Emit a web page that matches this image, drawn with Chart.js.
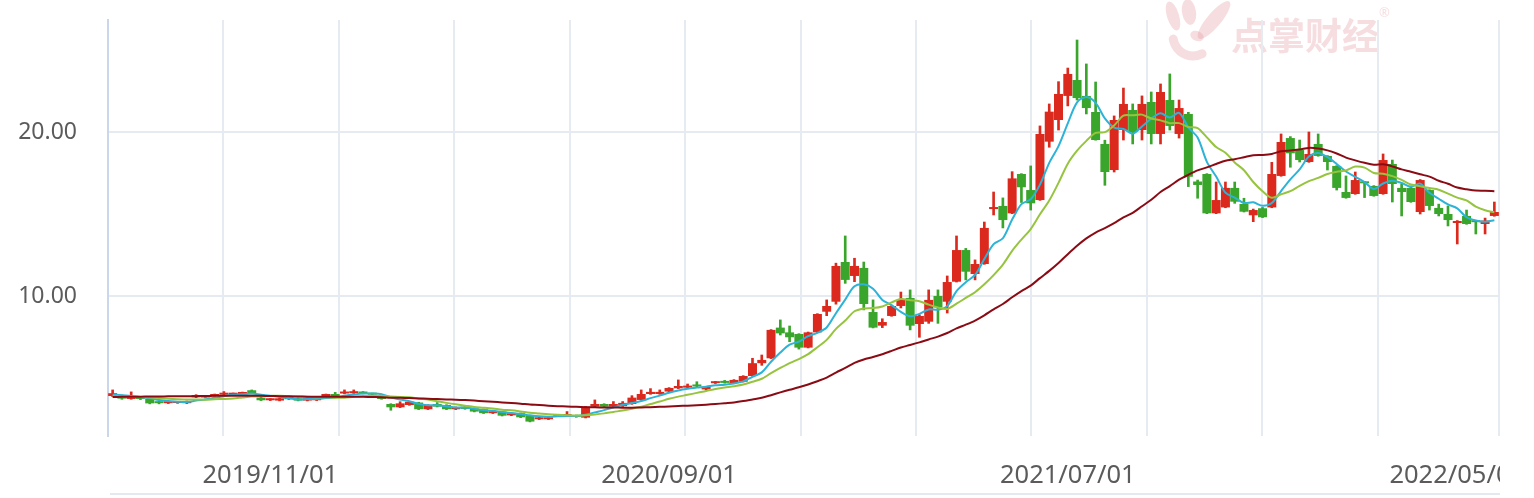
<!DOCTYPE html>
<html>
<head>
<meta charset="utf-8">
<script src="https://cdn.jsdelivr.net/npm/chart.js@4.4.0/dist/chart.umd.min.js"></script>
<style>
  html, body { margin: 0; padding: 0; background: #fff; }
  #kline { display: block; }
</style>
</head>
<body>
<canvas id="kline" width="1500" height="498"></canvas>
<script>
// Weekly candles (open / high / low / close)
const opens = [
  3.90,3.92,3.72,3.85,3.72,3.54,3.46,3.47,3.46,3.82, 3.92,3.90,3.98,3.98,4.02,4.25,3.80,3.64,3.62,3.76,
  3.76,3.62,3.64,3.90,4.02,4.05,4.07,4.15,4.05,3.92, 3.41,3.21,3.35,3.50,3.09,3.41,3.35,3.09,3.25,3.15,
  3.09,2.85,2.95,2.72,2.85,2.70,2.48,2.48,2.70,2.68, 2.72,2.58,3.25,3.41,3.25,3.28,3.41,3.66,4.02,4.02,
  4.17,4.37,4.41,4.55,4.30,4.68,4.77,4.68,4.77,5.12, 5.90,6.20,8.07,7.78,7.68,6.85,7.78,9.04,9.65,12.07,
  11.22,11.71,9.02,8.19,8.78,9.39,9.88,8.29,8.43,10.00, 9.65,10.87,12.80,11.34,11.95,15.30,15.49,15.04,17.44,16.46,
  15.85,19.41,20.73,22.20,23.17,22.20,21.22,19.27,17.68,20.12, 21.34,20.12,21.83,19.88,21.95,19.88,21.10,16.98,17.44,15.04,
  15.40,16.59,15.61,14.92,15.35,15.40,17.32,19.63,18.90,18.17, 19.27,18.54,17.93,16.34,16.22,16.95,16.71,16.22,18.05,16.59,
  16.59,15.12,16.46,15.37,15.00,14.45,14.88,14.55,14.39,14.88
];
const highs = [
  4.27,3.96,4.15,3.88,3.74,3.56,3.56,3.57,3.60,3.98, 3.94,4.02,4.17,4.08,4.14,4.27,3.82,3.74,3.78,3.78,
  3.78,3.78,3.78,4.02,4.12,4.27,4.27,4.17,4.07,3.94, 3.43,3.55,3.57,3.52,3.37,3.50,3.37,3.23,3.27,3.17,
  3.11,2.97,2.97,2.87,2.87,2.72,2.60,2.60,2.75,2.95, 2.74,3.27,3.66,3.43,3.56,3.56,3.92,4.27,4.35,4.27,
  4.41,4.88,4.63,4.77,4.49,4.79,4.85,4.90,5.14,6.20, 6.40,7.95,8.54,8.17,7.70,7.80,8.92,9.76,12.00,13.66,
  12.30,12.07,9.76,8.61,9.41,10.24,10.37,8.85,10.37,10.37, 11.22,13.66,12.90,12.20,14.51,16.34,15.98,17.58,17.46,17.93,
  20.37,21.71,23.07,23.90,25.61,24.15,23.05,19.50,20.98,22.68, 21.71,22.20,22.44,22.93,23.54,21.95,21.20,17.07,17.46,16.95,
  16.95,16.95,15.96,15.30,15.40,18.15,19.88,19.72,19.51,20.00, 19.88,18.56,17.95,17.32,17.56,16.97,16.73,18.66,18.29,16.83,
  16.71,17.10,16.48,15.60,15.49,14.60,15.24,14.57,14.75,15.73
];
const lows = [
  3.86,3.70,3.70,3.68,3.42,3.42,3.44,3.45,3.44,3.80, 3.78,3.88,3.96,3.96,4.00,4.03,3.62,3.62,3.60,3.68,
  3.60,3.60,3.62,3.88,3.88,4.03,4.05,4.03,3.96,3.70, 3.03,3.19,3.33,3.07,3.07,3.23,3.07,3.07,3.09,2.93,
  2.83,2.83,2.68,2.70,2.58,2.32,2.46,2.46,2.64,2.66, 2.60,2.56,3.23,3.23,3.23,3.26,3.39,3.64,4.00,4.00,
  4.15,4.35,4.39,4.46,4.27,4.66,4.68,4.66,4.75,5.10, 5.77,6.18,7.62,7.21,6.76,6.83,7.76,8.80,9.50,10.77,
  10.87,9.15,8.05,8.07,8.76,9.27,7.93,7.48,8.33,8.33, 8.96,10.85,10.98,10.98,11.93,14.94,14.15,15.02,15.70,15.24,
  15.83,19.07,20.12,21.59,21.95,21.10,19.50,16.75,17.56,19.51, 19.27,19.51,19.27,19.27,20.12,19.63,16.67,15.96,15.02,15.02,
  15.38,15.65,15.12,14.53,14.78,15.38,17.30,17.85,18.17,18.15, 18.52,17.68,16.46,15.96,16.20,16.00,16.08,16.20,15.73,14.88,
  15.71,15.00,15.24,14.88,14.27,13.17,14.37,13.78,13.78,14.86
];
const closes = [
  4.07,3.74,3.84,3.72,3.45,3.46,3.54,3.55,3.58,3.96, 3.80,4.00,4.05,4.05,4.12,4.05,3.64,3.72,3.76,3.70,
  3.62,3.76,3.76,4.00,3.90,4.15,4.15,4.05,3.98,3.72, 3.21,3.45,3.55,3.09,3.35,3.25,3.09,3.21,3.11,2.95,
  2.85,2.95,2.70,2.85,2.60,2.34,2.58,2.58,2.66,2.72, 2.62,3.25,3.41,3.25,3.41,3.48,3.80,4.02,4.15,4.15,
  4.39,4.51,4.51,4.48,4.47,4.77,4.70,4.88,5.12,5.90, 6.10,7.93,7.72,7.48,6.85,7.78,8.90,9.39,11.83,10.98,
  11.83,9.51,8.07,8.41,9.39,9.76,8.19,8.78,9.76,9.30, 10.85,12.80,11.48,11.95,14.15,15.40,14.63,17.17,16.63,15.65,
  19.88,21.24,22.32,23.54,22.07,21.46,19.51,17.56,20.73,21.71, 20.00,21.71,19.88,22.44,20.37,21.46,17.27,16.77,15.04,15.85,
  16.59,15.75,15.14,15.24,14.80,17.44,19.39,18.70,18.29,18.66, 18.54,18.17,16.59,15.98,17.07,16.87,16.10,18.29,16.83,16.34,
  15.73,17.07,15.49,15.00,14.63,14.50,14.39,14.50,14.60,15.12
];

// Moving average lines as drawn in the picture
const ma5 = [
  3.98,3.95,3.90,3.84,3.76,3.65,3.60,3.55,3.53,3.62, 3.69,3.79,3.88,3.97,4.00,4.05,3.98,3.92,3.86,3.77,
  3.69,3.71,3.72,3.77,3.81,3.91,3.99,4.05,4.05,4.01, 3.82,3.68,3.58,3.42,3.34,3.33,3.27,3.20,3.20,3.12,
  3.04,3.00,2.92,2.86,2.80,2.72,2.66,2.64,2.66,2.68, 2.68,2.76,2.90,3.04,3.20,3.36,3.47,3.59,3.77,3.92,
  4.10,4.24,4.34,4.41,4.47,4.55,4.59,4.66,4.79,5.07, 5.34,5.99,6.55,7.03,7.22,7.55,7.75,8.08,8.95,9.78,
  10.59,10.71,10.44,9.76,9.44,9.03,8.76,8.91,9.18,9.16, 9.38,10.30,10.84,11.28,12.25,13.16,13.52,14.66,15.60,15.90,
  16.79,18.12,19.14,20.53,21.81,22.13,21.78,20.83,20.27,20.19, 19.90,20.34,20.81,21.15,20.88,21.17,20.28,19.66,18.18,17.28,
  16.30,16.00,15.67,15.71,15.50,15.67,16.40,17.11,17.72,18.50, 18.72,18.47,18.05,17.59,17.27,16.94,16.52,16.86,17.03,16.89,
  16.66,16.85,16.29,15.93,15.58,15.34,14.80,14.60,14.52,14.62
];
const ma10 = [
  3.88,3.87,3.86,3.84,3.81,3.77,3.73,3.70,3.68,3.69, 3.67,3.70,3.72,3.75,3.81,3.87,3.89,3.90,3.92,3.89,
  3.87,3.85,3.82,3.82,3.79,3.80,3.85,3.89,3.91,3.91, 3.87,3.84,3.82,3.74,3.68,3.58,3.48,3.39,3.31,3.23,
  3.19,3.14,3.06,3.03,2.96,2.88,2.83,2.78,2.75,2.73, 2.71,2.72,2.77,2.84,2.93,3.01,3.12,3.25,3.41,3.56,
  3.73,3.86,3.97,4.09,4.20,4.33,4.42,4.50,4.60,4.77, 4.95,5.29,5.61,5.91,6.15,6.45,6.87,7.32,7.99,8.50,
  9.07,9.23,9.26,9.36,9.61,9.81,9.74,9.68,9.47,9.30, 9.21,9.53,9.88,10.23,10.71,11.27,11.91,12.75,13.44,14.08,
  14.98,15.82,16.90,18.07,18.86,19.46,19.95,19.99,20.40,21.00, 21.02,21.06,20.82,20.71,20.54,20.54,20.31,20.24,19.67,19.08,
  18.74,18.14,17.67,16.95,16.39,15.99,16.20,16.39,16.72,17.00, 17.20,17.44,17.58,17.66,17.89,17.83,17.50,17.46,17.31,17.08,
  16.80,16.69,16.58,16.48,16.24,16.00,15.83,15.45,15.23,15.10
];
const ma30 = [
  3.84,3.85,3.86,3.86,3.87,3.87,3.88,3.88,3.89,3.89, 3.90,3.91,3.92,3.92,3.92,3.92,3.91,3.90,3.89,3.88,
  3.87,3.86,3.86,3.86,3.86,3.86,3.85,3.85,3.84,3.83, 3.80,3.79,3.77,3.75,3.73,3.71,3.69,3.67,3.65,3.62,
  3.58,3.55,3.51,3.47,3.43,3.38,3.35,3.31,3.28,3.26, 3.24,3.22,3.21,3.20,3.20,3.19,3.19,3.20,3.22,3.24,
  3.26,3.29,3.31,3.34,3.37,3.41,3.46,3.51,3.59,3.69, 3.79,3.95,4.12,4.28,4.43,4.60,4.80,5.02,5.33,5.61,
  5.92,6.13,6.28,6.45,6.65,6.86,7.01,7.17,7.35,7.52, 7.74,8.02,8.25,8.50,8.82,9.18,9.51,9.92,10.30,10.63,
  11.09,11.53,12.01,12.55,13.06,13.51,13.87,14.14,14.44,14.79, 15.07,15.47,15.87,16.34,16.70,17.09,17.39,17.66,17.84,18.05,
  18.25,18.34,18.46,18.58,18.60,18.66,18.82,18.87,18.93,19.03, 18.99,18.88,18.69,18.44,18.27,18.12,18.00,18.03,17.90,17.72,
  17.58,17.42,17.28,17.03,16.84,16.61,16.51,16.43,16.42,16.39
];

// Category axis: one slot per week, only a few dates are labelled
const weeks = opens.map((_, i) => i);
const tickLabels = ['2019/11/01', '2020/09/01', '2021/07/01', '2022/05/01'];
const tickIndex = [17, 60, 103, 145];
const yTicks = [10, 20];

const RED = '#dc291d';
const GREEN = '#39a52a';
const GRID = '#e6ebf2';
const TEXT = '#5b5b5b';

const candleColors = closes.map((c, i) => (c >= opens[i] ? RED : GREEN));

// Background, watermark and the thin rule under the axis labels
const decorPlugin = {
  id: 'decor',
  beforeDraw(chart) {
    const ctx = chart.ctx;
    ctx.save();
    ctx.fillStyle = '#fff';
    ctx.fillRect(0, 0, chart.width, chart.height);

    // faded logo + brand text in the top right corner
    const pink = 'rgba(226, 150, 160, 0.32)';
    ctx.fillStyle = pink;
    const blob = (x, y, rx, ry, rot) => {
      ctx.beginPath();
      ctx.ellipse(x, y, rx, ry, rot, 0, Math.PI * 2);
      ctx.fill();
    };
    blob(1173, 16, 6, 15, -0.3);
    blob(1189, 12, 7, 13, -0.15);
    blob(1214, 20, 7, 24, 0.7);
    ctx.strokeStyle = pink;
    ctx.lineWidth = 9;
    ctx.lineCap = 'round';
    ctx.beginPath();
    ctx.arc(1193, 36, 20, 0.35 * Math.PI, 0.95 * Math.PI);
    ctx.stroke();
    blob(1197, 36, 7, 5, 0.4);

    ctx.font = 'bold 37px "Noto Sans CJK SC"';
    ctx.textBaseline = 'alphabetic';
    ctx.textAlign = 'left';
    ctx.fillText('点掌财经', 1231, 50);
    ctx.font = '13px "Noto Sans"';
    ctx.fillText('®', 1379, 17);
    ctx.restore();
  },
  afterDraw(chart) {
    const { ctx, chartArea } = chart;
    ctx.save();
    ctx.fillStyle = '#e4e9f0';
    ctx.fillRect(chartArea.left + 2, 493, chartArea.right - chartArea.left, 2);
    ctx.restore();
  }
};

const lineStyle = (color) => ({
  type: 'line',
  borderColor: color,
  borderWidth: 2,
  pointRadius: 0,
  pointHoverRadius: 0,
  tension: 0.3,
  fill: false,
  order: 0
});

new Chart(document.getElementById('kline'), {
  type: 'bar',
  data: {
    labels: weeks,
    datasets: [
      { label: 'MA30', data: ma30, ...lineStyle('#8b0b15') },
      { label: 'MA10', data: ma10, ...lineStyle('#97c43f') },
      { label: 'MA5', data: ma5, ...lineStyle('#2cb3d7') },
      {
        label: 'wick',
        data: lows.map((l, i) => [l, highs[i]]),
        backgroundColor: candleColors,
        barThickness: 2,
        grouped: false,
        order: 2
      },
      {
        label: 'body',
        data: opens.map((o, i) => [o, closes[i]]),
        backgroundColor: candleColors,
        barPercentage: 0.97,
        categoryPercentage: 1,
        minBarLength: 2,
        grouped: false,
        order: 1
      }
    ]
  },
  options: {
    responsive: false,
    animation: false,
    layout: { padding: { top: 20, right: 1, left: 0, bottom: 0 }, autoPadding: false },
    plugins: {
      legend: { display: false },
      tooltip: { enabled: false }
    },
    scales: {
      x: {
        type: 'category',
        offset: true,
        grid: { display: false },
        border: { display: false },
        ticks: {
          autoSkip: false,
          maxRotation: 0,
          minRotation: 0,
          padding: 16,
          color: TEXT,
          font: { family: 'Noto Sans', size: 25.5 },
          callback: (v, i) => {
            const k = tickIndex.indexOf(i);
            return k >= 0 ? tickLabels[k] : '';
          }
        },
        afterFit: (scale) => {
          scale.height = 62;
          scale.paddingLeft = 0;
          scale.paddingRight = 0;
        }
      },
      // vertical split lines of the plot
      xg: {
        type: 'linear',
        position: 'bottom',
        offset: false,
        min: 0,
        max: 12.05,
        ticks: { display: false, stepSize: 1 },
        grid: {
          offset: false,
          lineWidth: 2,
          drawTicks: false,
          color: (c) => (c.tick && (c.tick.value === 0 || c.tick.value === 12) ? 'rgba(0,0,0,0)' : GRID)
        },
        border: { display: false },
        afterFit: (scale) => {
          scale.height = 0;
          scale.paddingLeft = 0;
          scale.paddingRight = 0;
        }
      },
      y: {
        min: 1.46,
        max: 26.83,
        afterBuildTicks: (scale) => { scale.ticks = yTicks.map((v) => ({ value: v })); },
        ticks: {
          padding: 31,
          color: TEXT,
          font: { family: 'Noto Sans', size: 23 },
          callback: (v) => Number(v).toFixed(2)
        },
        grid: { color: GRID, lineWidth: 2, drawTicks: false },
        border: { display: true, color: '#cbd6ea', width: 2 },
        afterFit: (scale) => {
          scale.width = 108;
          scale.paddingTop = 0;
          scale.paddingBottom = 0;
        }
      }
    }
  },
  plugins: [decorPlugin]
});
</script>
</body>
</html>
